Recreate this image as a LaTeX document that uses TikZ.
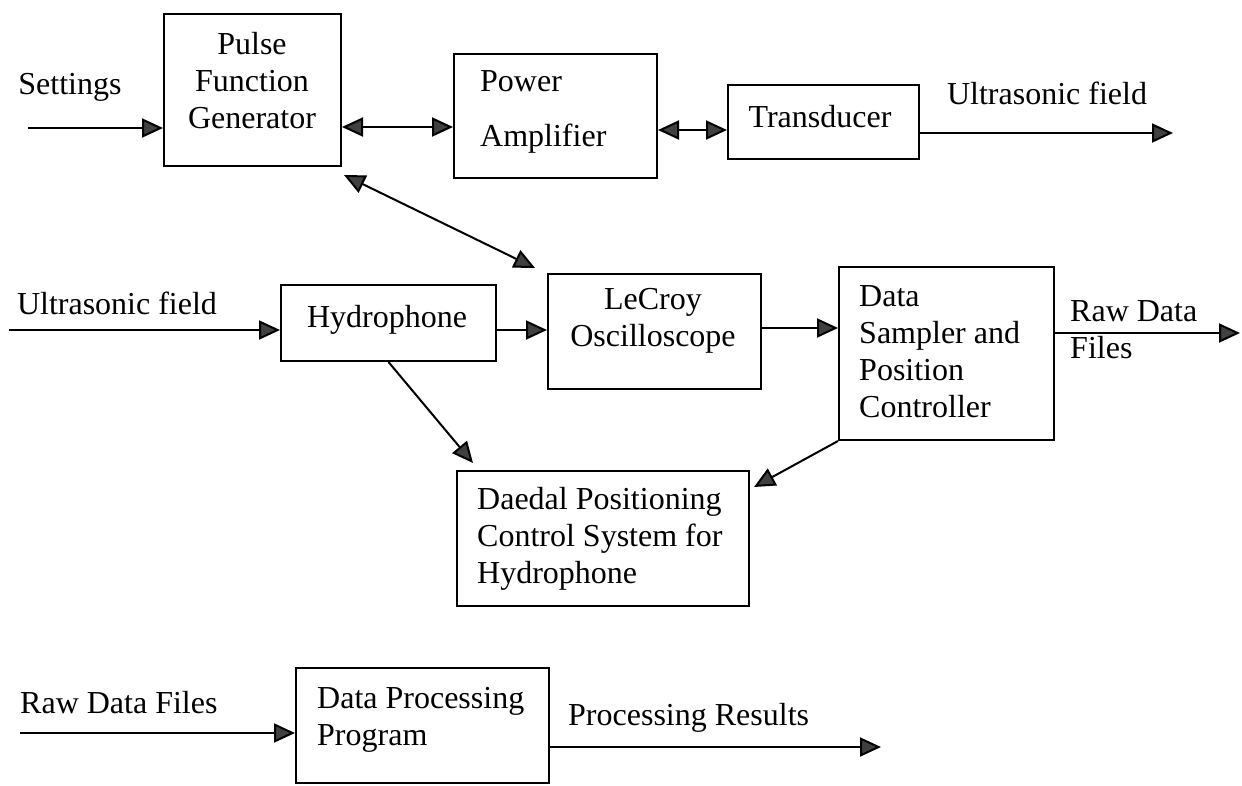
\documentclass[tikz,border=0pt]{standalone}
\usepackage{fontspec}
\setmainfont{Liberation Serif}
\usetikzlibrary{arrows.meta}
\tikzset{
  box/.style={draw, line width=2pt, inner sep=0pt, anchor=north west},
  lbl/.style={font=\fontsize{32}{37}\selectfont, inner sep=0pt},
  tip/.style={Triangle[length=21pt,width=19pt,fill=black!75]},
  arr/.style={line width=2pt, -{Triangle[length=21pt,width=19pt,fill=black!75]}},
  darr/.style={line width=2pt, {Triangle[length=21pt,width=19pt,fill=black!75]}-{Triangle[length=21pt,width=19pt,fill=black!75]}},
}
\begin{document}
\begin{tikzpicture}[x=1pt,y=-1pt]
\useasboundingbox (0,0) rectangle (1242,785);
% boxes
\node[box, minimum width=177pt, minimum height=152pt] (pfg) at (163,13) {};
\node[box, minimum width=203pt, minimum height=124pt] (pa) at (453,53) {};
\node[box, minimum width=191pt, minimum height=74pt] (tr) at (727,84) {};
\node[box, minimum width=215pt, minimum height=76pt] (hyd) at (280,284) {};
\node[box, minimum width=213pt, minimum height=115pt] (lec) at (547,273) {};
\node[box, minimum width=215pt, minimum height=173pt] (dsp) at (838,266) {};
\node[box, minimum width=292pt, minimum height=135pt] (dae) at (456,470) {};
\node[box, minimum width=253pt, minimum height=115pt] (dpp) at (295,667) {};
% texts
\node[lbl] (tset) at (70,87) {Settings};
\node[lbl, align=center] (tpfg) at (252,81) {Pulse\\Function\\Generator};
\node[lbl, align=left, anchor=west] (tpa) at (480,112) {Power\\[18pt]Amplifier};
\node[lbl] (ttr) at (820,117) {Transducer};
\node[lbl] (tuo) at (1047,93) {Ultrasonic field};
\node[lbl] (tui) at (117,303) {Ultrasonic field};
\node[lbl] (thyd) at (387,320) {Hydrophone};
\node[lbl, align=center] (tlec) at (653,321) {LeCroy\\Oscilloscope};
\node[lbl, align=left, anchor=west] (tdsp) at (859,352) {Data\\Sampler and\\Position\\Controller};
\node[lbl, align=left, anchor=west] (traw) at (1070,330) {Raw Data\\Files};
\node[lbl, align=left, anchor=west] (tdae) at (477,539) {Daedal Positioning\\Control System for\\Hydrophone};
\node[lbl, anchor=west] (trdf) at (20,703) {Raw Data Files};
\node[lbl, align=left, anchor=west] (tdpp) at (317,720) {Data Processing\\Program};
\node[lbl, anchor=west] (tpr) at (568,718) {Processing Results};
% helper coordinates
\coordinate (sin) at (28,128);
\coordinate (r1) at (0,127);
\coordinate (r2) at (0,130);
\coordinate (uo) at (1173,133);
\coordinate (uin) at (9,330);
\coordinate (r3) at (0,328);
\coordinate (rdo) at (1240,333);
\coordinate (bin) at (20,733);
\coordinate (bout) at (881,747);
% connectors
\draw[arr] (sin) -- (sin -| pfg.west);
\draw[darr] (pfg.east |- r1) -- (pa.west |- r1);
\draw[darr] (pa.east |- r2) -- (tr.west |- r2);
\draw[arr] (tr.east |- uo) -- (uo);
\draw[darr] ([shift={(2,8)}]pfg.south east) -- ([shift={(-12,-5)}]lec.north west);
\draw[arr] (uin) -- (uin -| hyd.west);
\draw[arr] (hyd.east |- uin) -- (lec.west |- uin);
\draw[arr] (lec.east |- r3) -- (dsp.west |- r3);
\draw[arr] (dsp.east |- rdo) -- (rdo);
\draw[arr] (hyd.south) -- ([shift={(17,-7)}]dae.north west);
\draw[arr] (dsp.south west) -- ([shift={(4,17)}]dae.north east);
\draw[arr] (bin) -- (bin -| dpp.west);
\draw[arr] (dpp.east |- bout) -- (bout);
\end{tikzpicture}
\end{document}
